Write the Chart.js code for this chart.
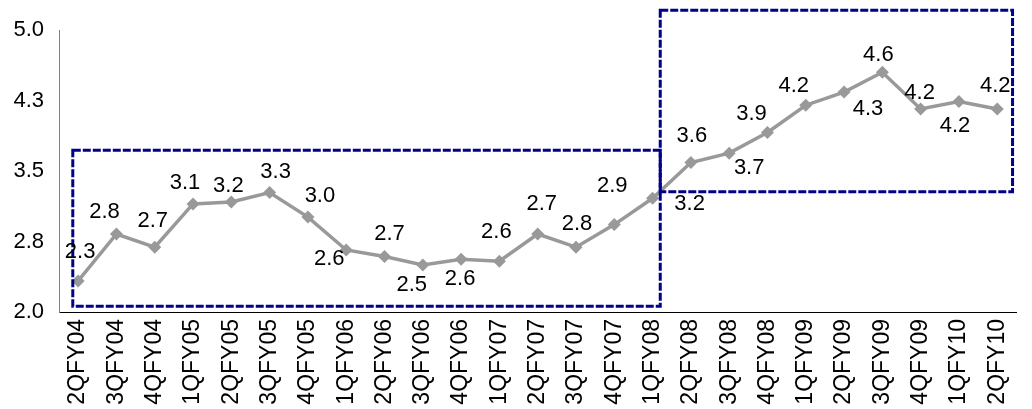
<!DOCTYPE html>
<html>
<head>
<meta charset="utf-8">
<script src="https://cdn.jsdelivr.net/npm/chart.js@4/dist/chart.umd.min.js"></script>
<style>
  html, body { margin: 0; padding: 0; background: #fff; }
  #wrap { width: 1032px; height: 409px; position: relative; }
</style>
</head>
<body>
<div id="wrap"><canvas id="chart"></canvas></div>
<script>
// --- Data ---
const quarters = ['2QFY04', '3QFY04', '4QFY04', '1QFY05', '2QFY05', '3QFY05', '4QFY05',
  '1QFY06', '2QFY06', '3QFY06', '4QFY06', '1QFY07', '2QFY07', '3QFY07', '4QFY07',
  '1QFY08', '2QFY08', '3QFY08', '4QFY08', '1QFY09', '2QFY09', '3QFY09', '4QFY09',
  '1QFY10', '2QFY10'];
const values = [2.33, 2.83, 2.69, 3.15, 3.17, 3.27, 3.01, 2.66, 2.59, 2.50, 2.56, 2.54,
  2.83, 2.69, 2.93, 3.21, 3.59, 3.69, 3.91, 4.20, 4.34, 4.55, 4.16, 4.24, 4.16];
// printed labels as they appear on the chart
const valueLabels = ['2.3', '2.8', '2.7', '3.1', '3.2', '3.3', '3.0', '2.6', '2.7', '2.5',
  '2.6', '2.6', '2.7', '2.8', '2.9', '3.2', '3.6', '3.7', '3.9', '4.2', '4.3', '4.6',
  '4.2', '4.2', '4.2'];
const yTicks = [2.0, 2.75, 3.5, 4.25, 5.0];

// --- Label placement (px offset from the point) ---
const labelOffsets = [[2, -29], [-12, -22], [-2, -26], [-8, -21], [-3, -16], [6, -21],
  [12, -21], [-17, 9], [5, -23], [-11, 20], [-1, 20], [-3, -29], [4, -30], [1, -23],
  [-2, -39], [37, 6], [1, -27], [20, 15], [-16, -19], [-12, -19], [24, 17], [-4, -17],
  [-1, -16], [-4, 24], [-2, -23]];

// --- Highlight boxes, in axis units (category index, value) ---
const boxes = [
  { x0: -0.14, x1: 15.2, y0: 2.06, y1: 3.72 },
  { x0: 15.2, x1: 24.4, y0: 3.28, y1: 5.21 }
];

const FONT = '"Liberation Sans", Arial, sans-serif';

const overlayPlugin = {
  id: 'overlay',
  afterDatasetsDraw(chart) {
    const ctx = chart.ctx;
    const xs = chart.scales.x, ys = chart.scales.y;
    ctx.save();
    // dashed boxes
    ctx.strokeStyle = '#000088';
    ctx.lineWidth = 3;
    ctx.setLineDash([8, 2]);
    boxes.forEach(b => {
      const step = xs.getPixelForValue(1) - xs.getPixelForValue(0);
      const left = xs.getPixelForValue(0) + b.x0 * step;
      const right = xs.getPixelForValue(0) + b.x1 * step;
      const top = ys.getPixelForValue(b.y1);
      const bottom = ys.getPixelForValue(b.y0);
      ctx.strokeRect(left, top, right - left, bottom - top);
    });
    ctx.setLineDash([]);
    // value labels
    const meta = chart.getDatasetMeta(0);
    ctx.fillStyle = '#000';
    ctx.font = '22px ' + FONT;
    ctx.textAlign = 'center';
    ctx.textBaseline = 'middle';
    meta.data.forEach((pt, i) => {
      const off = labelOffsets[i] || [0, -20];
      ctx.fillText(valueLabels[i], pt.x + off[0], pt.y + off[1]);
    });
    ctx.restore();
  }
};

new Chart(document.getElementById('chart'), {
  type: 'line',
  data: {
    labels: quarters,
    datasets: [{
      data: values,
      borderColor: '#999999',
      backgroundColor: '#999999',
      borderWidth: 3.5,
      pointStyle: 'rectRot',
      pointRadius: 6.5,
      pointBorderWidth: 0,
      tension: 0
    }]
  },
  options: {
    responsive: true,
    maintainAspectRatio: false,
    animation: false,
    layout: { padding: { top: 30, right: 8, left: 0, bottom: 0 } },
    plugins: { legend: { display: false }, tooltip: { enabled: false } },
    scales: {
      x: {
        offset: true,
        grid: { display: false, drawTicks: false },
        border: { color: '#000', width: 1 },
        ticks: {
          color: '#000',
          font: { family: FONT, size: 23 },
          padding: 7,
          minRotation: 90,
          maxRotation: 90,
          autoSkip: false
        },
        afterFit(s) { s.height = 97; }
      },
      y: {
        min: 2,
        max: 5,
        afterBuildTicks(s) { s.ticks = yTicks.map(v => ({ value: v })); },
        grid: { display: false, drawTicks: false },
        border: { color: '#808080', width: 1 },
        ticks: {
          color: '#000',
          font: { family: FONT, size: 22 },
          padding: 15,
          callback: v => Number(v).toFixed(1)
        },
        afterFit(s) { s.width = 59; }
      }
    }
  },
  plugins: [overlayPlugin]
});
</script>
</body>
</html>
